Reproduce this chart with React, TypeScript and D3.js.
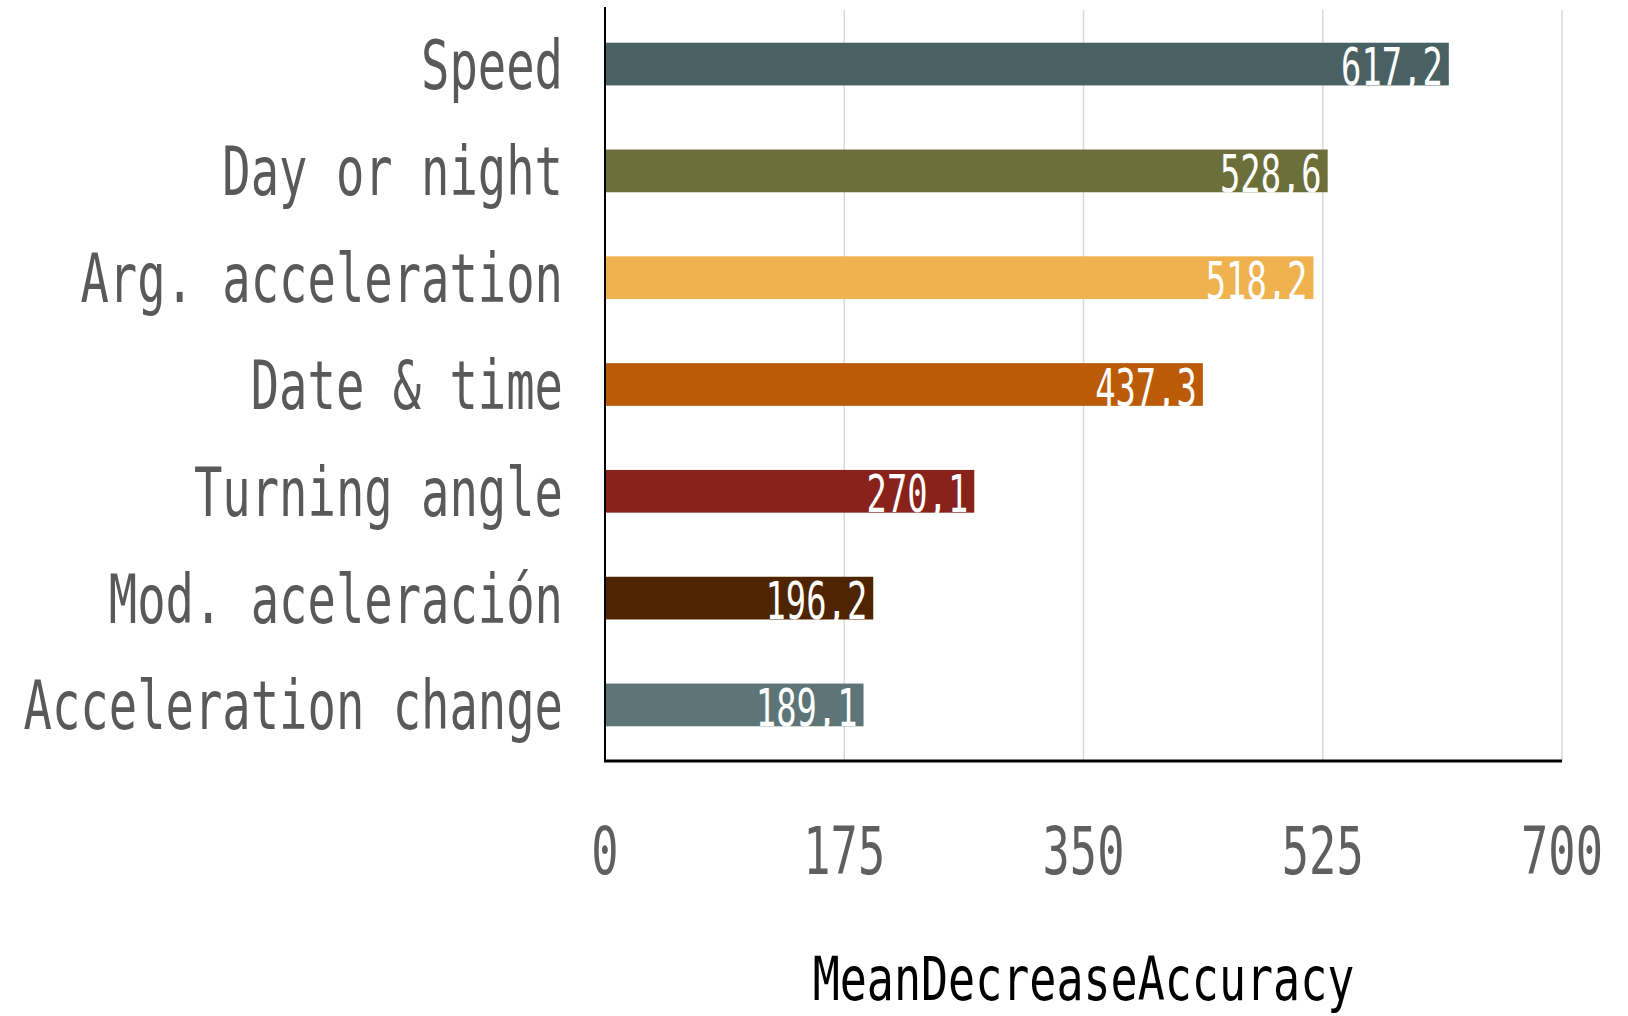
import React from 'react';
import * as d3 from 'd3';

// Variable importance (random forest)
const features = [
  'Speed',
  'Day or night',
  'Arg. acceleration',
  'Date & time',
  'Turning angle',
  'Mod. aceleración',
  'Acceleration change',
];
const meanDecreaseAccuracy = [617.2, 528.6, 518.2, 437.3, 270.1, 196.2, 189.1];
const barColors = ['#4a6163', '#6c6f3a', '#efb24f', '#bb5a07', '#89221b', '#4e2500', '#5e7578'];
const xTicks = [0, 175, 350, 525, 700];
const axisTitle = 'MeanDecreaseAccuracy';

const FONT = '"DejaVu Sans Mono", monospace';

const App: React.FC = () => {
  const width = 1628;
  const height = 1016;
  const margin = { top: 8, right: 66, bottom: 255, left: 605 };
  const plotRight = width - margin.right;
  const plotBottom = height - margin.bottom;

  const x = d3.scaleLinear().domain([0, 700]).range([margin.left, plotRight]);
  const y = d3.scaleBand<string>()
    .domain(features)
    .range([margin.top, plotBottom])
    .paddingInner(0.6)
    .paddingOuter(0.325);

  const fmt = (v: number) => v.toFixed(1).replace('.', ',');

  return (
    <div style={{ position: 'fixed', left: 0, top: 0, width, height, background: '#fff' }}>
      <svg width={width} height={height} style={{ display: 'block' }}>
        {/* gridlines */}
        {xTicks.filter(t => t > 0).map(t => (
          <line key={'g' + t} x1={x(t)} x2={x(t)} y1={10} y2={plotBottom}
            stroke="#d9d9d9" strokeWidth={1.5} />
        ))}

        {/* bars */}
        {features.map((f, i) => (
          <rect key={f} x={x(0)} y={y(f)} width={x(meanDecreaseAccuracy[i]) - x(0)}
            height={y.bandwidth()} fill={barColors[i]} />
        ))}

        {/* value labels */}
        {features.map((f, i) => (
          <text key={'v' + f}
            transform={`translate(${x(meanDecreaseAccuracy[i]) - 6},${(y(f) as number) + y.bandwidth() / 2 + 21}) scale(0.65,1)`}
            textAnchor="end" fontFamily={FONT} fontSize={52} fill="#ffffff">
            {fmt(meanDecreaseAccuracy[i])}
          </text>
        ))}

        {/* category labels */}
        {features.map(f => (
          <text key={'c' + f}
            transform={`translate(563,${(y(f) as number) + y.bandwidth() / 2 + 24.5}) scale(0.704,1)`}
            textAnchor="end" fontFamily={FONT} fontSize={67} fill="#595959">
            {f}
          </text>
        ))}

        {/* axes lines */}
        <line x1={x(0)} x2={x(0)} y1={7} y2={plotBottom + 1} stroke="#000" strokeWidth={2} />
        <line x1={x(0) - 1} x2={plotRight} y1={plotBottom} y2={plotBottom} stroke="#000" strokeWidth={3} />

        {/* tick labels */}
        {xTicks.map(t => (
          <text key={'t' + t} transform={`translate(${x(t)},874) scale(0.687,1)`}
            textAnchor="middle" fontFamily={FONT} fontSize={66} fill="#5f5f5f">
            {t}
          </text>
        ))}

        {/* axis title */}
        <text transform={`translate(${(x(0) + plotRight) / 2},1000) scale(0.75,1)`}
          textAnchor="middle" fontFamily={FONT} fontSize={60} fill="#000">
          {axisTitle}
        </text>
      </svg>
    </div>
  );
};

export default App;
